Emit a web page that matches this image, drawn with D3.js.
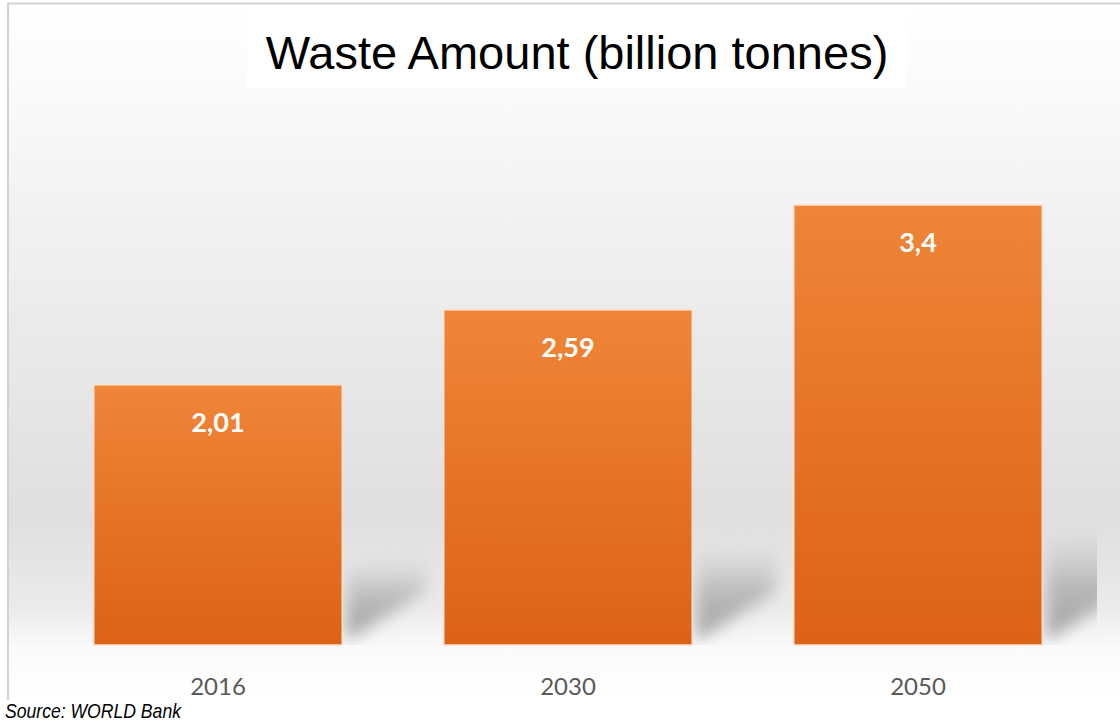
<!DOCTYPE html>
<html>
<head>
<meta charset="utf-8">
<script src="https://cdn.jsdelivr.net/npm/d3@7"></script>
<style>
  html, body { margin: 0; padding: 0; background: #fff; }
  svg { display: block; }
</style>
</head>
<body>
<div id="chart"></div>
<script>
// --- data ---
const years = ['2016', '2030', '2050'];
const amounts = [2.01, 2.59, 3.4];
const valueLabels = ['2,01', '2,59', '3,4'];

const W = 1120, H = 722;
const svg = d3.select('#chart').append('svg')
  .attr('width', W).attr('height', H);

const defs = svg.append('defs');

// backdrop: soft vertical grey band behind the bars
const bg = defs.append('linearGradient').attr('id', 'bg')
  .attr('x1', 0).attr('y1', 0).attr('x2', 0).attr('y2', 1);
[[0, '#ffffff'], [0.15, '#f9f9f9'], [0.45, '#ebebeb'], [0.74, '#dfdfdf'],
 [0.87, '#ebebeb'], [0.93, '#fbfbfb'], [1, '#ffffff']]
  .forEach(([o, c]) => bg.append('stop').attr('offset', o).attr('stop-color', c));

const barGrad = defs.append('linearGradient').attr('id', 'bar')
  .attr('x1', 0).attr('y1', 0).attr('x2', 0).attr('y2', 1);
barGrad.append('stop').attr('offset', 0).attr('stop-color', '#ef8538');
barGrad.append('stop').attr('offset', 1).attr('stop-color', '#dc6217');

const shGrad = defs.append('linearGradient').attr('id', 'sh')
  .attr('x1', 0).attr('y1', 1).attr('x2', 0).attr('y2', 0);
shGrad.append('stop').attr('offset', 0).attr('stop-color', '#a0a0a0').attr('stop-opacity', 1);
shGrad.append('stop').attr('offset', 0.5).attr('stop-color', '#aaaaaa').attr('stop-opacity', 0.75);
shGrad.append('stop').attr('offset', 1).attr('stop-color', '#c0c0c0').attr('stop-opacity', 0);

defs.append('filter').attr('id', 'blur')
  .attr('x', '-50%').attr('y', '-50%').attr('width', '200%').attr('height', '200%')
  .append('feGaussianBlur').attr('stdDeviation', 8);

defs.append('clipPath').attr('id', 'plotclip')
  .append('rect').attr('x', 8).attr('y', 3).attr('width', 1089).attr('height', 642);

// frame
svg.append('rect').attr('x', 8).attr('y', 3).attr('width', W - 8).attr('height', 697)
  .attr('fill', 'url(#bg)');
svg.append('line').attr('x1', 8).attr('x2', W).attr('y1', 3.5).attr('y2', 3.5)
  .attr('stroke', '#d2d2d2').attr('stroke-width', 2);
svg.append('line').attr('x1', 8).attr('x2', 8).attr('y1', 3).attr('y2', 700)
  .attr('stroke', '#d2d2d2').attr('stroke-width', 2);

// title box + title
svg.append('rect').attr('x', 247).attr('y', 10).attr('width', 660).attr('height', 78)
  .attr('fill', '#ffffff');
svg.append('text')
  .attr('x', 577).attr('y', 69)
  .attr('text-anchor', 'middle')
  .attr('font-family', '"Liberation Sans", Arial, sans-serif')
  .attr('font-size', 47)
  .attr('fill', '#000')
  .text('Waste Amount (billion tonnes)');

// scales
const x = d3.scaleBand().domain(years).range([43, 1093])
  .paddingInner(0.29).paddingOuter(0.145);
const y = d3.scaleLinear().domain([0, 3.4]).range([645, 205]);

const data = years.map((yr, i) => ({ yr, v: amounts[i], label: valueLabels[i] }));

// perspective shadows behind the bars
svg.append('g').attr('clip-path', 'url(#plotclip)')
  .selectAll('path').data(data).join('path')
  .attr('d', d => {
    const r = x(d.yr) + x.bandwidth() + 4;
    const b = y(0) - 4;
    const h = y(0) - y(d.v);
    const top = b - (34 + h * 0.16);
    return `M${r},${b} L${r},${top} L${r + 80},${top - 10} L${r + 80},${b - 50} Z`;
  })
  .attr('fill', 'url(#sh)')
  .attr('filter', 'url(#blur)');

// bars
svg.append('g').selectAll('rect').data(data).join('rect')
  .attr('x', d => x(d.yr))
  .attr('y', d => y(d.v))
  .attr('width', x.bandwidth())
  .attr('height', d => y(0) - y(d.v))
  .attr('fill', 'url(#bar)')
  .attr('stroke', '#fbe2d0')
  .attr('stroke-width', 1.5);

// value labels
svg.append('g').selectAll('text').data(data).join('text')
  .attr('x', d => x(d.yr) + x.bandwidth() / 2)
  .attr('y', d => y(d.v) + 47)
  .attr('text-anchor', 'middle')
  .attr('font-family', 'Lato, "Open Sans", sans-serif')
  .attr('font-weight', 700)
  .attr('font-size', 27)
  .attr('fill', '#ffffff')
  .text(d => d.label);

// category axis (labels only)
const xAxis = svg.append('g')
  .attr('transform', `translate(0, ${y(0)})`)
  .call(d3.axisBottom(x).tickSize(0).tickPadding(33));
xAxis.select('.domain').remove();
xAxis.selectAll('text')
  .attr('font-family', 'Lato, "Open Sans", sans-serif')
  .attr('font-size', 24)
  .attr('fill', '#595959');

// source note (condensed italic)
svg.append('text')
  .attr('transform', 'translate(5, 718) scale(0.88, 1)')
  .attr('font-family', '"Liberation Sans", Arial, sans-serif')
  .attr('font-style', 'italic')
  .attr('font-size', 20)
  .attr('fill', '#000')
  .text('Source: WORLD Bank');
</script>
</body>
</html>
